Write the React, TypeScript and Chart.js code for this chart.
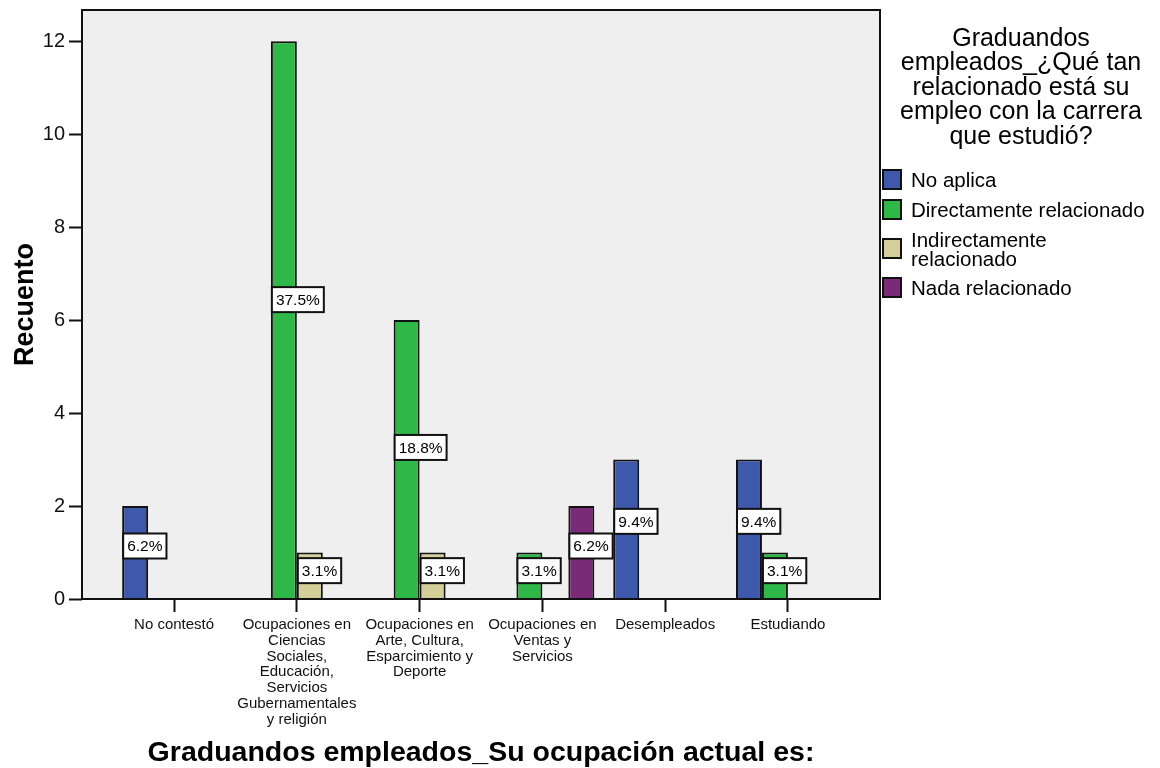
import React, { useEffect, useRef } from 'react';
import { Chart, registerables } from 'chart.js';

Chart.register(...registerables);

const FONT = '"Liberation Sans", Arial, Helvetica, sans-serif';

const categories: string[][] = [
  ['No contestó'],
  ['Ocupaciones en', 'Ciencias', 'Sociales,', 'Educación,', 'Servicios', 'Gubernamentales', 'y religión'],
  ['Ocupaciones en', 'Arte, Cultura,', 'Esparcimiento y', 'Deporte'],
  ['Ocupaciones en', 'Ventas y', 'Servicios'],
  ['Desempleados'],
  ['Estudiando'],
];

const seriesNames = ['No aplica', 'Directamente relacionado', 'Indirectamente relacionado', 'Nada relacionado'];
const legendLines: string[][] = [['No aplica'], ['Directamente relacionado'], ['Indirectamente', 'relacionado'], ['Nada relacionado']];
const seriesColors = ['#3E58AC', '#2EB848', '#D4CF98', '#7B2A78'];

const noAplica = [2, 0, 0, 0, 3, 3];
const directamente = [0, 12, 6, 1, 0, 1];
const indirectamente = [0, 1, 1, 0, 0, 0];
const nada = [0, 0, 0, 2, 0, 0];

const pctNoAplica = ['6.2%', '', '', '', '9.4%', '9.4%'];
const pctDirectamente = ['', '37.5%', '18.8%', '3.1%', '', '3.1%'];
const pctIndirectamente = ['', '3.1%', '3.1%', '', '', ''];
const pctNada = ['', '', '', '6.2%', '', ''];

const yTicks = [0, 2, 4, 6, 8, 10, 12];
const yMax = 12.67;

const xTitle = 'Graduandos empleados_Su ocupación actual es:';
const yTitle = 'Recuento';
const legendTitle = ['Graduandos', 'empleados_¿Qué tan', 'relacionado está su', 'empleo con la carrera', 'que estudió?'];

const seriesValues = [noAplica, directamente, indirectamente, nada];
const seriesPcts = [pctNoAplica, pctDirectamente, pctIndirectamente, pctNada];

const framePlugin = {
  id: 'frameAndLabels',
  beforeDatasetsDraw(chart: any) {
    const { ctx, chartArea: a } = chart;
    ctx.save();
    ctx.fillStyle = '#EFEFEF';
    ctx.fillRect(a.left, a.top, a.right - a.left, a.bottom - a.top);
    ctx.restore();
  },
  afterDatasetsDraw(chart: any) {
    const { ctx, chartArea: a } = chart;
    ctx.save();
    ctx.strokeStyle = '#111';
    ctx.lineWidth = 2;
    ctx.strokeRect(a.left, a.top, a.right - a.left, a.bottom - a.top);
    const yScale = chart.scales.y;
    ctx.font = `15.5px ${FONT}`;
    ctx.textAlign = 'center';
    ctx.textBaseline = 'middle';
    seriesValues.forEach((vals, di) => {
      const meta = chart.getDatasetMeta(di);
      vals.forEach((v, i) => {
        const txt = seriesPcts[di][i];
        if (!v || !txt) return;
        const el = meta.data[i];
        if (!el) return;
        const left = el.x - el.width / 2 + 1;
        const cy = yScale.getPixelForValue(v * 0.53 + 0.08);
        const w = ctx.measureText(txt).width + 8;
        const h = 25;
        ctx.fillStyle = '#fff';
        ctx.fillRect(left, cy - h / 2, w, h);
        ctx.strokeStyle = '#111';
        ctx.lineWidth = 2;
        ctx.strokeRect(left, cy - h / 2, w, h);
        ctx.fillStyle = '#000';
        ctx.fillText(txt, left + w / 2, cy + 1);
      });
    });
    ctx.restore();
  },
};

export default function App() {
  const canvasRef = useRef<HTMLCanvasElement | null>(null);

  useEffect(() => {
    if (!canvasRef.current) return;
    const datasets = seriesNames.map((name, di) => ({
      label: name,
      data: seriesValues[di].map((v, i) => ({ x: i, y: v === 0 ? null : v })),
      backgroundColor: seriesColors[di],
      borderColor: '#111',
      borderWidth: 2,
      categoryPercentage: 0.846,
      barPercentage: 1,
    }));
    const chart = new Chart(canvasRef.current, {
      type: 'bar',
      data: { datasets } as any,
      plugins: [framePlugin],
      options: {
        animation: false,
        responsive: false,
        maintainAspectRatio: false,
        layout: { padding: { left: 0, top: 10, right: 280, bottom: 0 } },
        plugins: { legend: { display: false }, tooltip: { enabled: false } },
        scales: {
          x: {
            type: 'linear',
            min: -0.75,
            max: 5.75,
            offset: false,
            afterBuildTicks: (s: any) => {
              s.ticks = categories.map((_, i) => ({ value: i }));
            },
            afterFit: (s: any) => {
              s.height = 169;
              s.paddingLeft = 0;
              s.paddingRight = 0;
            },
            ticks: {
              callback: (v: any) => categories[v] ?? '',
              font: { family: FONT, size: 15, lineHeight: 1.05 },
              color: '#111',
              maxRotation: 0,
              autoSkip: false,
              padding: 5,
            },
            grid: { offset: false, drawOnChartArea: false, drawTicks: true, tickLength: 13, tickWidth: 2, tickColor: '#111', color: '#111' },
            border: { display: false },
            title: {
              display: true,
              text: xTitle,
              font: { family: FONT, size: 28.5, weight: 'bold', lineHeight: 1.0 },
              color: '#000',
              padding: { top: 0, bottom: 1 },
            },
          },
          y: {
            type: 'linear',
            min: 0,
            max: yMax,
            afterBuildTicks: (s: any) => {
              s.ticks = yTicks.map((v) => ({ value: v }));
            },
            afterFit: (s: any) => {
              s.width = 82;
              s.paddingTop = 0;
              s.paddingBottom = 0;
            },
            ticks: {
              font: { family: FONT, size: 20 },
              color: '#111',
              padding: 4,
            },
            grid: { offset: false, drawOnChartArea: false, drawTicks: true, tickLength: 13, tickWidth: 2, tickColor: '#111', color: '#111' },
            border: { display: false },
            title: {
              display: true,
              text: yTitle,
              font: { family: FONT, size: 27, weight: 'bold', lineHeight: 1.2 },
              color: '#000',
              padding: { top: 9, bottom: 0 },
            },
          },
        },
      } as any,
    });
    return () => chart.destroy();
  }, []);

  return (
    <div style={{ position: 'fixed', left: 0, top: 0, width: 1160, height: 768, background: '#fff', overflow: 'hidden' }}>
      <canvas ref={canvasRef} width={1160} height={768} style={{ display: 'block', width: 1160, height: 768 }} />
      <div
        style={{
          position: 'absolute',
          left: 880,
          top: 24.5,
          width: 282,
          textAlign: 'center',
          fontFamily: FONT,
          fontSize: 25,
          lineHeight: '24.5px',
          color: '#000',
        }}
      >
        {legendTitle.map((l, i) => (
          <div key={i} style={{ whiteSpace: 'nowrap' }}>{l}</div>
        ))}
      </div>
      <div style={{ position: 'absolute', left: 882, top: 168.5, fontFamily: FONT, fontSize: 20.5, lineHeight: '19px', color: '#000' }}>
        {legendLines.map((lines, i) => (
          <div key={i} style={{ display: 'flex', alignItems: 'center', marginBottom: 9.5 }}>
            <div
              style={{
                width: 20,
                height: 21,
                boxSizing: 'border-box',
                border: '2px solid #111',
                background: seriesColors[i],
                flex: '0 0 auto',
              }}
            />
            <div style={{ marginLeft: 9, whiteSpace: 'nowrap' }}>
              {lines.map((l, j) => (
                <div key={j}>{l}</div>
              ))}
            </div>
          </div>
        ))}
      </div>
    </div>
  );
}
